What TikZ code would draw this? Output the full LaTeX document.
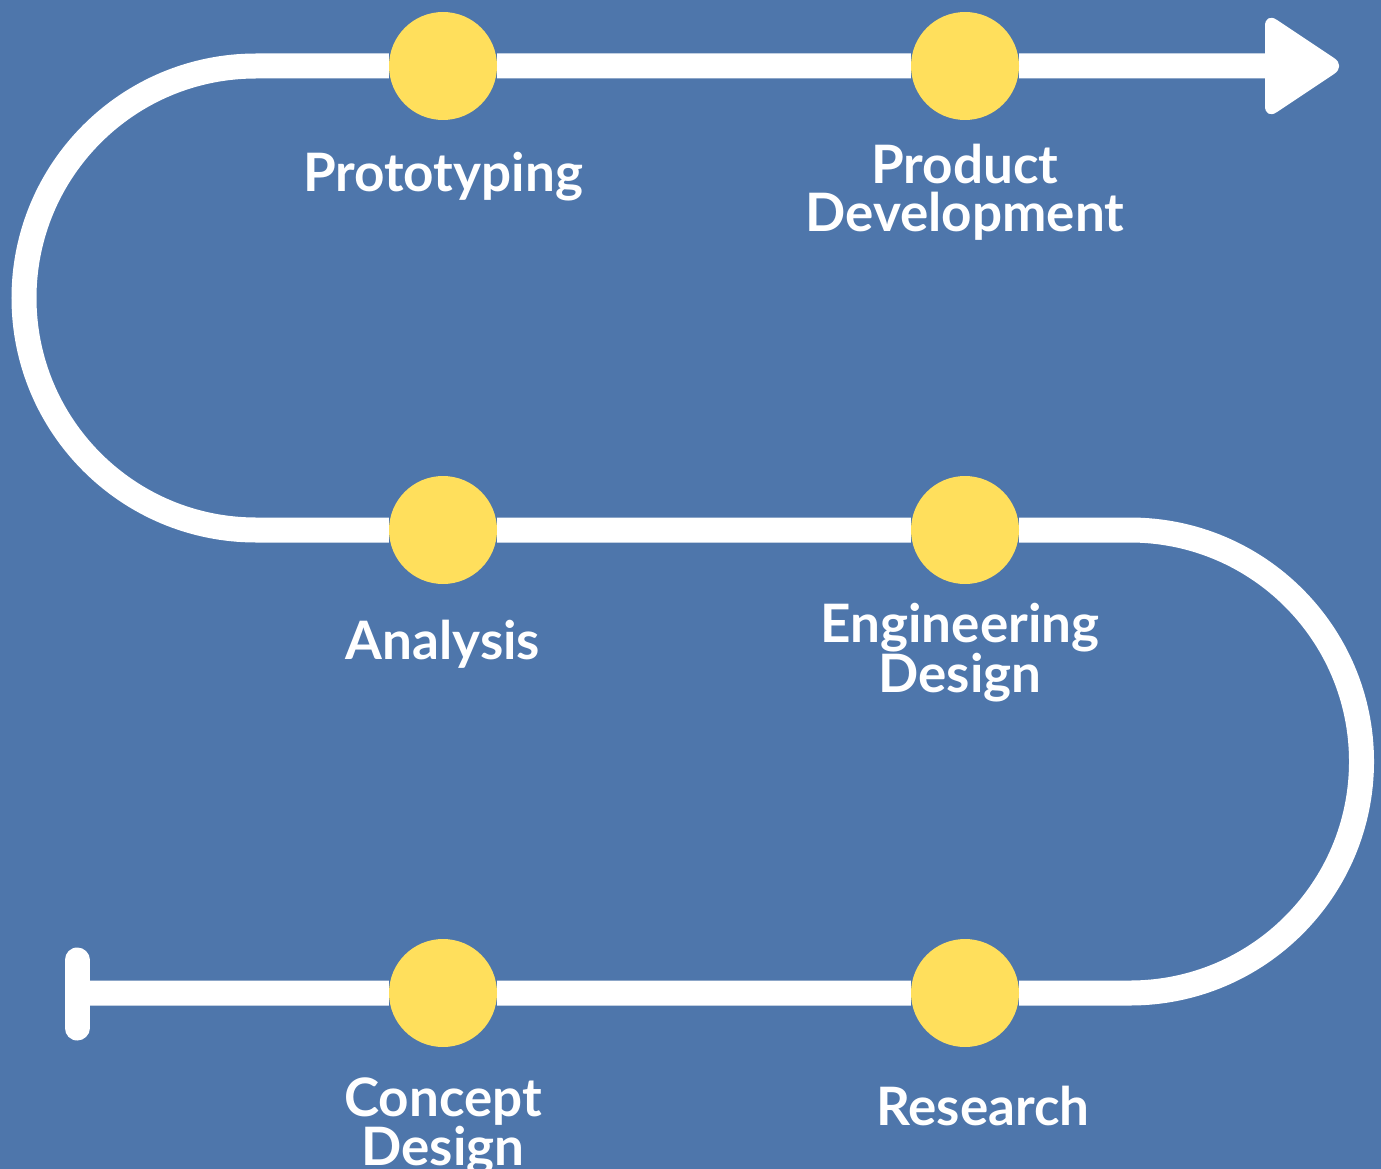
\documentclass[tikz,border=0pt]{standalone}
\usepackage{fontspec}
\setmainfont{Lato}
\usetikzlibrary{positioning,backgrounds}
\definecolor{bgblue}{RGB}{78,118,171}
\definecolor{dotyellow}{RGB}{255,223,92}

\begin{document}
\begin{tikzpicture}[x=1pt,y=-1pt,
	track/.style={draw=white, line width=25pt},
	stagedot/.style={circle, fill=dotyellow, minimum size=108pt, inner sep=0pt},
	stagetext/.style={text=white, inner sep=0pt, align=center, font=\fontsize{53}{48}\selectfont\bfseries}]
	\useasboundingbox (0,0) rectangle (1381,1169);
	% stages, from the end of the road back to the start
	\node[stagedot] (proto) at (443,66) {};
	\node[stagedot] (prod) at (965,66) {};
	\node[stagedot] (ana) at (443,530) {};
	\node[stagedot] (eng) at (965,530) {};
	\node[stagedot] (concept) at (443,993) {};
	\node[stagedot] (res) at (965,993) {};
	\node[stagetext, below=32pt of proto] (protot) {Prototyping};
	\node[stagetext, below=24pt of prod] (prodt) {Product\\Development};
	\node[stagetext, below=36pt of ana] (anat) {Analysis};
	\node[stagetext, below=19pt of eng, xshift=-5pt] (engt) {Engineering\\Design};
	\node[stagetext, below=30pt of concept] (conceptt) {Concept\\Design};
	\node[stagetext, below=39pt of res, xshift=18pt] (rest) {Research};
	\coordinate (bartop) at (77,960);
	\coordinate (barbot) at (77,1028);
	\coordinate (start) at (77,993);
	\coordinate (rturn) at (1130,993);
	\coordinate (lturn) at (256,530);
	\coordinate (tip) at (1270,66);
	\begin{scope}[on background layer]
		\fill[bgblue] (0,0) rectangle (1381,1169);
		\draw[track] (start) -- (concept) -- (res) -- (rturn)
			arc[start angle=90, end angle=-90, radius=231.5] -- (eng) -- (ana) -- (lturn)
			arc[start angle=90, end angle=270, radius=232] -- (proto) -- (prod) -- (tip);
		\draw[track, line cap=round] (bartop) -- (barbot);
		\fill[white, rounded corners=14pt, shift={(tip)}] (-5,-54) -- (76,0) -- (-5,54) -- cycle;
	\end{scope}
\end{tikzpicture}
\end{document}
